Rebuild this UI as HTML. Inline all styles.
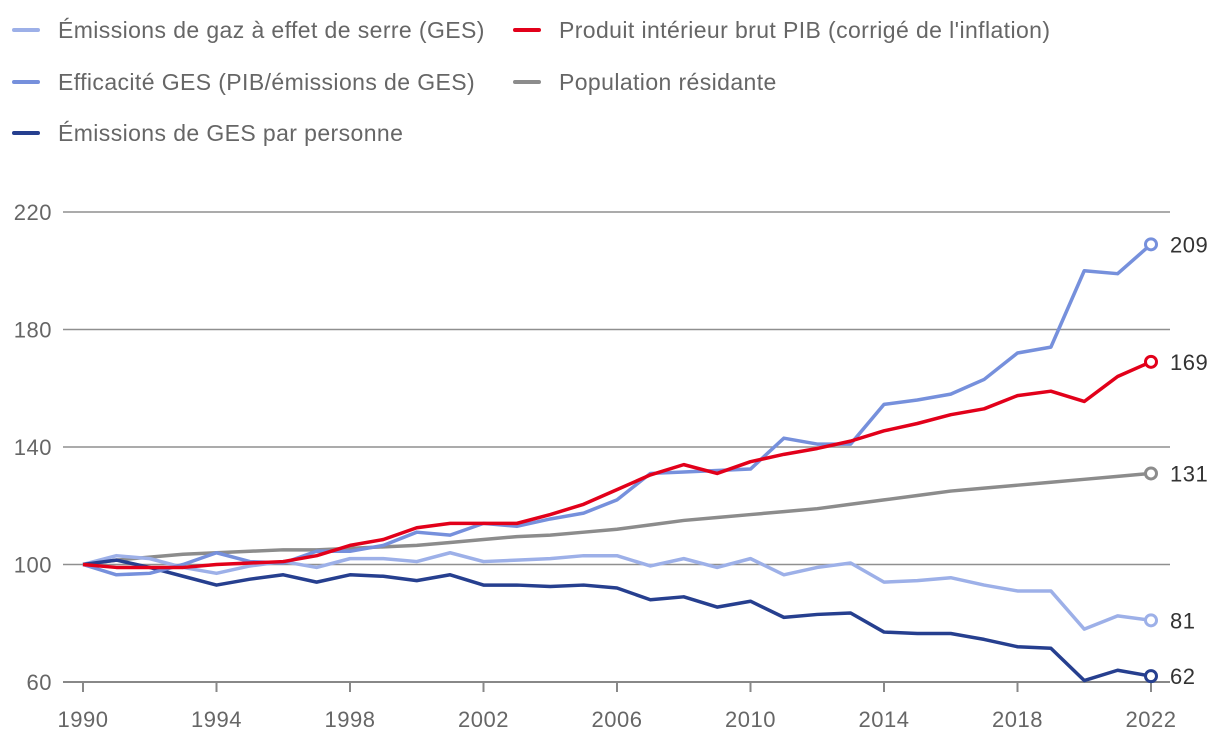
<!DOCTYPE html>
<html><head><meta charset="utf-8"><style>
body{margin:0;background:#fff;font-family:"Liberation Sans",sans-serif;}
svg text{font-family:"Liberation Sans",sans-serif;}
</style></head><body>
<svg id="c" width="1220" height="744"></svg>
<script>
const years=[];for(let y=1990;y<=2022;y++)years.push(y);
const gesValues=[100,103,102,99,97,99.5,101,99,102,102,101,104,101,101.5,102,103,103,99.5,102,99,102,96.5,99,100.5,94,94.5,95.5,93,91,91,78,82.5,81];
const efficiencyValues=[100,96.5,97,100,104,101,100.5,104.5,104.5,106.5,111,110,114,113,115.5,117.5,122,131,131.5,132,132.5,143,141,141,154.5,156,158,163,172,174,200,199,209];
const gdpValues=[100,99,99,99,100,100.5,101,103,106.5,108.5,112.5,114,114,114,117,120.5,125.5,130.5,134,131,135,137.5,139.5,142,145.5,148,151,153,157.5,159,155.5,164,169];
const populationValues=[100,101.5,102.5,103.5,104,104.5,105,105,105.5,106,106.5,107.5,108.5,109.5,110,111,112,113.5,115,116,117,118,119,120.5,122,123.5,125,126,127,128,129,130,131];
const perPersonValues=[100,101.5,99,96,93,95,96.5,94,96.5,96,94.5,96.5,93,93,92.5,93,92,88,89,85.5,87.5,82,83,83.5,77,76.5,76.5,74.5,72,71.5,60.5,64,62];
const yTicks=[60,100,140,180,220];
const xTicks=[1990,1994,1998,2002,2006,2010,2014,2018,2022];
const legendLabels=["Émissions de gaz à effet de serre (GES)","Produit intérieur brut PIB (corrigé de l'inflation)","Efficacité GES (PIB/émissions de GES)","Population résidante","Émissions de GES par personne"];

const NS="http://www.w3.org/2000/svg";const svg=document.getElementById('c');
const X=y=>83+(y-1990)*(1068/32);
const Y=v=>682-(v-60)*(470/160);
function el(t,a,p){const e=document.createElementNS(NS,t);for(const k in a)e.setAttribute(k,a[k]);(p||svg).appendChild(e);return e;}
yTicks.forEach(t=>{
 const l=el('line',{x1:63,x2:1170,y1:Y(t),y2:Y(t),stroke:t==60?'#888':'#8f8f8f','stroke-width':t==60?2:1.6});
 
 
 const tx=el('text',{x:52,y:Y(t)+8,'text-anchor':'end','font-size':22,'letter-spacing':0.5,fill:'#666'});tx.textContent=t;
 
 
});
xTicks.forEach(t=>{
 const l=el('line',{x1:X(t),x2:X(t),y1:682,y2:692,stroke:'#888','stroke-width':2});
 
 
 const tx=el('text',{x:X(t),y:727,'text-anchor':'middle','font-size':22,'letter-spacing':0.5,fill:'#666'});tx.textContent=t;
 
 
});
const series=[
 {v:populationValues,c:'#8c8c8c',n:'population'},
 {v:gesValues,c:'#9db0e8',n:'ges-emissions'},
 {v:perPersonValues,c:'#263f8f',n:'ges-per-person'},
 {v:efficiencyValues,c:'#7690dc',n:'ges-efficiency'},
 {v:gdpValues,c:'#e2001a',n:'gdp'}];
series.forEach(s=>{
 const p=el('polyline',{points:s.v.map((v,i)=>X(years[i])+','+Y(v)).join(' '),fill:'none',stroke:s.c,'stroke-width':3.5,'stroke-linejoin':'round'});
 
 
 const last=s.v[s.v.length-1];
 const c=el('circle',{cx:X(2022),cy:Y(last),r:5.5,fill:'#fff',stroke:s.c,'stroke-width':3});
 
 
 const t=el('text',{x:1170,y:Y(last)+8,'font-size':22,'letter-spacing':0.5,fill:'#333'});t.textContent=Math.round(last);
 
 
});
const leg=[[14,30,'#9db0e8',0],[515,30,'#e2001a',1],[14,82,'#7690dc',2],[515,82,'#8c8c8c',3],[14,133,'#263f8f',4]];
leg.forEach(L=>{
 const g=el('g',{});
 
 
 el('line',{x1:L[0],x2:L[0]+24,y1:L[1],y2:L[1],stroke:L[2],'stroke-width':4,'stroke-linecap':'round'},g);
 const t=el('text',{x:L[0]+44,y:L[1]+8,'font-size':23,'letter-spacing':0.4,fill:'#666'},g);t.textContent=legendLabels[L[3]];
});
</script>
</body></html>
